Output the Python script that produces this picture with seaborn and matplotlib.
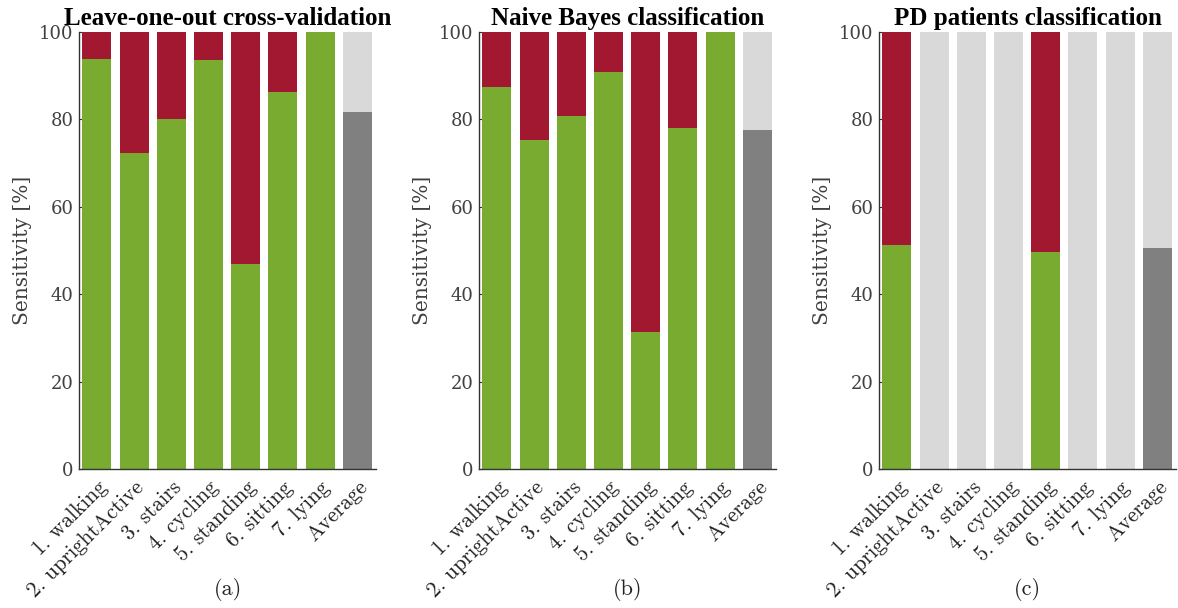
import matplotlib
matplotlib.use("Agg")
import matplotlib.pyplot as plt
import seaborn as sns
import pandas as pd

categories = ['1. walking', '2. uprightActive', '3. stairs', '4. cycling',
              '5. standing', '6. sitting', '7. lying', 'Average']
total = [100, 100, 100, 100, 100, 100, 100, 100]
loo_sens = [93.8, 72.3, 80.2, 93.6, 46.9, 86.3, 100.0, 81.8]
nb_sens = [87.4, 75.4, 80.8, 90.9, 31.4, 78.0, 100.0, 77.6]
pd_sens = [51.3, 0, 0, 0, 49.7, 0, 0, 50.5]
pd_present = [True, False, False, False, True, False, False]
titles = ['Leave-one-out cross-validation', 'Naive Bayes classification',
          'PD patients classification']
panel_labels = ['(a)', '(b)', '(c)']

GREEN = '#78ab30'
RED = '#a21830'
LGRAY = '#d9d9d9'
DGRAY = '#808080'

sns.set_theme(style='white')

fig = plt.figure(figsize=(11.78, 6.08), dpi=100)
lefts = [79 / 1178, 479 / 1178, 879 / 1178]
bottom = 1 - 469 / 608
height = (469 - 32) / 608
width = 297 / 1178

series = [loo_sens, nb_sens, pd_sens]
presents = [[True] * 7, [True] * 7, pd_present]

for i in range(3):
    ax = fig.add_axes([lefts[i], bottom, width, height])
    top_colors = [RED if p else LGRAY for p in presents[i]] + [LGRAY]
    bot_colors = [GREEN] * 7 + [DGRAY]
    df_top = pd.DataFrame({'cat': categories, 'val': total})
    df_bot = pd.DataFrame({'cat': categories, 'val': series[i]})
    sns.barplot(data=df_top, x='cat', y='val', hue='cat', palette=top_colors,
                legend=False, width=0.78, saturation=1, ax=ax, linewidth=0)
    sns.barplot(data=df_bot, x='cat', y='val', hue='cat', palette=bot_colors,
                legend=False, width=0.78, saturation=1, ax=ax, linewidth=0)
    ax.set_xlim(-0.48, 7.5)
    ax.set_ylim(0, 100)
    ax.set_yticks([0, 20, 40, 60, 80, 100])
    ax.set_yticklabels(['0', '20', '40', '60', '80', '100'],
                       family='DejaVu Serif', fontsize=13, color='#404040')
    ax.set_xticks(range(len(categories)))
    ax.set_xticklabels(categories, rotation=45, ha='right', va='top',
                       rotation_mode='anchor', family='cmr10', fontsize=15.5,
                       color='#222222')
    ax.tick_params(axis='y', direction='in', length=3, width=0.8,
                   color='#333333', left=True, pad=4)
    ax.tick_params(axis='x', length=0, pad=6)
    ax.set_xlabel('')
    ax.set_ylabel('Sensitivity [%]', family='DejaVu Serif', fontsize=14.5,
                  color='#404040', labelpad=5)
    for s in ['top', 'right']:
        ax.spines[s].set_visible(False)
    for s in ['left', 'bottom']:
        ax.spines[s].set_color('#333333')
        ax.spines[s].set_linewidth(1.0)
    ax.set_title(titles[i], family='Liberation Serif', fontweight='bold',
                 fontsize=18, pad=5, color='black')
    ax.text(0.5, -0.275, panel_labels[i], transform=ax.transAxes,
            ha='center', va='center', family='cmr10', fontsize=16,
            color='#222222')

fig.savefig('out.png', dpi=100)
